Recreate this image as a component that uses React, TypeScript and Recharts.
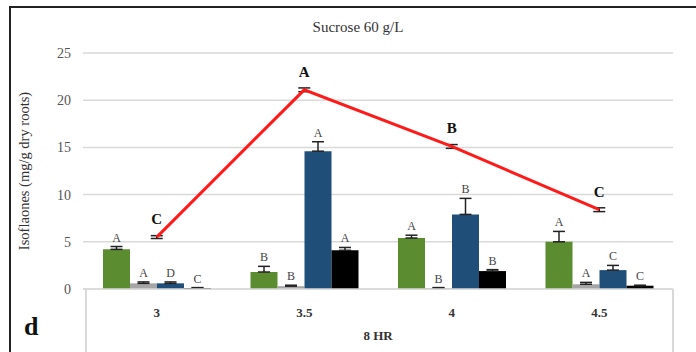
import React from 'react';
import { ComposedChart, Bar, Line, XAxis, YAxis, CartesianGrid, ErrorBar, LabelList } from 'recharts';

// values (Isoflavones, mg/g dry roots)
const CATEGORIES = ['3', '3.5', '4', '4.5'];
const GREEN = [4.2, 1.8, 5.4, 5.0];
const GREEN_ERR = [0.3, 0.6, 0.3, 1.1];
const GREEN_LBL = ['A', 'B', 'A', 'A'];
const GREY = [0.6, 0.3, 0.1, 0.5];
const GREY_ERR = [0.15, 0.1, 0.05, 0.2];
const GREY_LBL = ['A', 'B', 'B', 'A'];
const BLUE = [0.6, 14.6, 7.9, 2.0];
const BLUE_ERR = [0.15, 1.0, 1.7, 0.5];
const BLUE_LBL = ['D', 'A', 'B', 'C'];
const BLACK = [0.1, 4.1, 1.9, 0.35];
const BLACK_ERR = [0.05, 0.3, 0.15, 0.05];
const BLACK_LBL = ['C', 'A', 'B', 'C'];
const TOTAL = [5.5, 21.1, 15.1, 8.4];
const TOTAL_ERR = [0.15, 0.2, 0.2, 0.2];
const TOTAL_LBL = ['C', 'A', 'B', 'C'];
const Y_TICKS = [0, 5, 10, 15, 20, 25];

const data = CATEGORIES.map((cat, i) => ({
  cat,
  green: GREEN[i], greenErr: [0, GREEN_ERR[i]], greenLbl: GREEN_LBL[i],
  grey: GREY[i], greyErr: [0, GREY_ERR[i]], greyLbl: GREY_LBL[i],
  blue: BLUE[i], blueErr: [0, BLUE_ERR[i]], blueLbl: BLUE_LBL[i],
  black: BLACK[i], blackErr: [0, BLACK_ERR[i]], blackLbl: BLACK_LBL[i],
  total: TOTAL[i], totalErr: [TOTAL_ERR[i], TOTAL_ERR[i]], totalLbl: TOTAL_LBL[i],
}));

const SERIF = '"Liberation Serif", "Times New Roman", serif';

// letter sits just above the error bar; px-per-unit taken from the bar itself
const barLabel = (vals: number[], errs: number[]) => (props: any) => {
  const { x, y, width, height, value, index } = props;
  const v = vals[index];
  const ppu = v > 0 ? Number(height) / v : 0;
  const top = Number(y) - errs[index] * ppu;
  return (
    <text x={Number(x) + Number(width) / 2} y={top - 5} textAnchor="middle"
      fontFamily={SERIF} fontSize={12} fill="#444">{value}</text>
  );
};

const lineLabel = (props: any) => {
  const { x, y, value } = props;
  return (
    <text x={x} y={y - 13} textAnchor="middle" fontFamily={SERIF}
      fontSize={15} fontWeight="bold" fill="#111">{value}</text>
  );
};

const CatTick = (props: any) => {
  const { x, y, payload } = props;
  return (
    <text x={x} y={y + 20} textAnchor="middle" fontFamily={SERIF}
      fontSize={13} fontWeight="bold" fill="#333">{payload.value}</text>
  );
};

export default function App() {
  return (
    <div style={{ position: 'absolute', left: 0, top: 0, width: 696, height: 352, background: '#fff', overflow: 'hidden' }}>
      <ComposedChart width={696} height={352} data={data}
        margin={{ top: 53, right: 23, bottom: 0, left: 10 }}
        barCategoryGap={20} barGap={0}>
        <CartesianGrid vertical={false} stroke="#d9d9d9" strokeWidth={1.5} />
        <XAxis dataKey="cat" height={63} tickLine={false} axisLine={{ stroke: '#d9d9d9', strokeWidth: 1.5 }}
          tick={<CatTick />} interval={0}
          label={{ value: '8 HR', position: 'insideBottom', offset: 12, fontFamily: SERIF, fontSize: 13, fontWeight: 'bold', fill: '#333' }} />
        <YAxis width={73} domain={[0, 25]} ticks={Y_TICKS} axisLine={false} tickLine={false}
          tick={{ fontFamily: SERIF, fontSize: 14, fill: '#555' }} tickMargin={6}
          label={{ value: 'Isoflaones (mg/g dry roots)', angle: -90, position: 'insideLeft', offset: 14,
            style: { textAnchor: 'middle', fontFamily: SERIF, fontSize: 14.5, fill: '#333' } }} />
        <Bar dataKey="green" fill="#5b8c2f" isAnimationActive={false}>
          <ErrorBar dataKey="greenErr" width={6} strokeWidth={1.5} stroke="#222" direction="y" />
          <LabelList dataKey="greenLbl" content={barLabel(GREEN, GREEN_ERR)} />
        </Bar>
        <Bar dataKey="grey" fill="#a5a5a5" isAnimationActive={false}>
          <ErrorBar dataKey="greyErr" width={6} strokeWidth={1.5} stroke="#222" direction="y" />
          <LabelList dataKey="greyLbl" content={barLabel(GREY, GREY_ERR)} />
        </Bar>
        <Bar dataKey="blue" fill="#1f4e79" isAnimationActive={false}>
          <ErrorBar dataKey="blueErr" width={6} strokeWidth={1.5} stroke="#222" direction="y" />
          <LabelList dataKey="blueLbl" content={barLabel(BLUE, BLUE_ERR)} />
        </Bar>
        <Bar dataKey="black" fill="#000" isAnimationActive={false}>
          <ErrorBar dataKey="blackErr" width={6} strokeWidth={1.5} stroke="#222" direction="y" />
          <LabelList dataKey="blackLbl" content={barLabel(BLACK, BLACK_ERR)} />
        </Bar>
        <Line type="linear" dataKey="total" stroke="#ff1a1a" strokeWidth={3} dot={false} isAnimationActive={false}>
          <ErrorBar dataKey="totalErr" width={6} strokeWidth={1.5} stroke="#222" direction="y" />
          <LabelList dataKey="totalLbl" content={lineLabel} />
        </Line>
      </ComposedChart>

      {/* title, panel letter, frame and the category table lines */}
      <div style={{ position: 'absolute', left: 0, width: 716, top: 19, textAlign: 'center', fontFamily: SERIF, fontSize: 15, color: '#333' }}>
        Sucrose 60 g/L
      </div>
      <div style={{ position: 'absolute', left: 24, top: 312, fontFamily: SERIF, fontSize: 26, fontWeight: 'bold', color: '#111' }}>d</div>
      <div style={{ position: 'absolute', left: 9, top: 6, width: 700, height: 360, borderTop: '2px solid #222', borderLeft: '2px solid #222' }} />
      <div style={{ position: 'absolute', left: 85, top: 289, width: 1.5, height: 63, background: '#d9d9d9' }} />
      <div style={{ position: 'absolute', left: 672, top: 289, width: 1.5, height: 63, background: '#d9d9d9' }} />
    </div>
  );
}
